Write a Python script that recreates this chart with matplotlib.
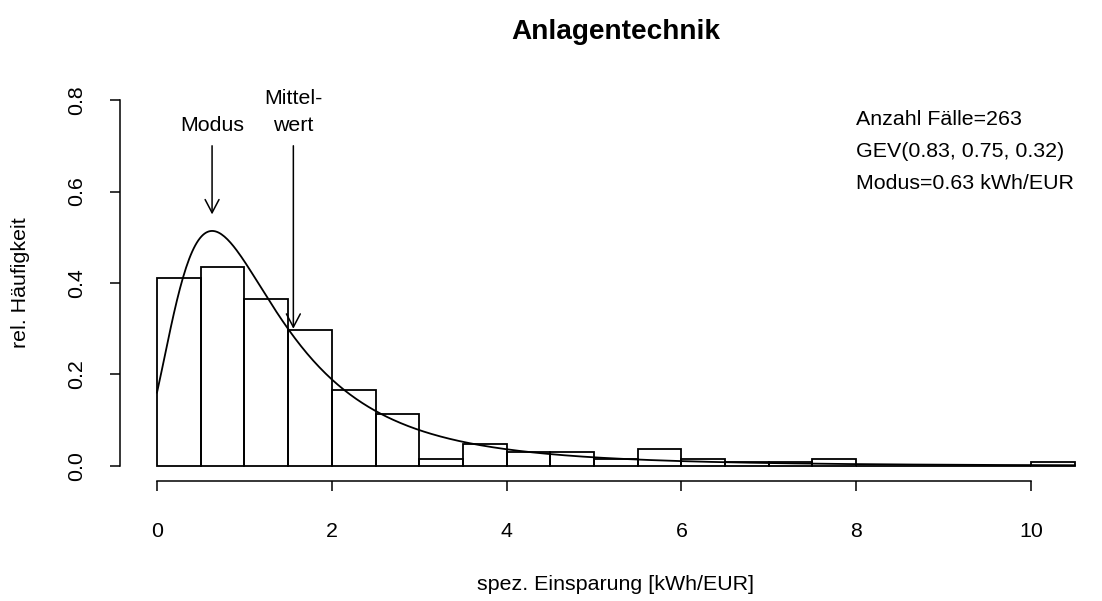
import numpy as np
import matplotlib
matplotlib.use("Agg")
import matplotlib.pyplot as plt

plt.rcParams['font.family'] = ['Liberation Sans', 'DejaVu Sans']

# histogram: bin edges every 0.5 kWh/EUR, relative frequency (density) per bin
bin_left = np.arange(0, 10.5, 0.5)
rel_freq = [0.411, 0.435, 0.366, 0.298, 0.167, 0.113, 0.016, 0.047, 0.030, 0.030,
            0.016, 0.037, 0.016, 0.008, 0.008, 0.016, 0.0, 0.0, 0.0, 0.0, 0.008]

# fitted GEV (location, scale, shape) as printed on the chart
gev_loc, gev_scale, gev_shape = 0.83, 0.75, 0.32
modus = 0.63
mittelwert = 1.56
n_cases = 263

info_lines = ["Anzahl Fälle=%d" % n_cases,
              "GEV(%.2f, %.2f, %.2f)" % (gev_loc, gev_scale, gev_shape),
              "Modus=%.2f kWh/EUR" % modus]

xticks = [0, 2, 4, 6, 8, 10]
yticks = [0.0, 0.2, 0.4, 0.6, 0.8]


def gev_pdf(x):
	z = 1 + gev_shape * (x - gev_loc) / gev_scale
	t = z ** (-1 / gev_shape)
	return t ** (gev_shape + 1) * np.exp(-t) / gev_scale


fig = plt.figure(figsize=(11.02, 6.01), dpi=100)
ax = fig.add_axes([120.3 / 1102, 1 - 480.6 / 601, 991.1 / 1102, 395.2 / 601])
ax.set_xlim(-0.42, 10.92)
ax.set_ylim(-0.032, 0.832)

fs = 15.4
ax.bar(bin_left, rel_freq, width=0.5, align="edge", fill=False, edgecolor="black", linewidth=1.3)

xs = np.linspace(0, 10.5, 600)
ax.plot(xs, gev_pdf(xs), color="black", linewidth=1.3)

# arrows for mode and mean
arrow = dict(arrowstyle="->,head_length=0.95,head_width=0.5", color="black", lw=1.1, shrinkA=0, shrinkB=0)
ax.annotate("", xy=(modus, 0.55), xytext=(modus, 0.70), arrowprops=arrow)
ax.annotate("", xy=(mittelwert, 0.30), xytext=(mittelwert, 0.70), arrowprops=arrow)
ax.text(modus, 0.723, "Modus", ha="center", va="bottom", fontsize=fs)
ax.text(mittelwert, 0.723, "Mittel-\nwert", ha="center", va="bottom", fontsize=fs,
	multialignment="center", linespacing=1.55)

for i, line in enumerate(info_lines):
	ax.text(8.0, 0.758 - 0.07 * i, line, ha="left", va="center", fontsize=fs)

# R-style detached axes
for s in ["top", "right"]:
	ax.spines[s].set_visible(False)
ax.spines["left"].set_bounds(0, 0.8)
ax.spines["bottom"].set_bounds(0, 10)
ax.spines["left"].set_linewidth(1.1)
ax.spines["bottom"].set_linewidth(1.1)
ax.set_xticks(xticks)
ax.set_xticklabels([str(v) for v in xticks])
ax.set_yticks(yticks)
ax.set_yticklabels(["%.1f" % v for v in yticks])
ax.tick_params(axis="both", length=7.5, width=1.1, labelsize=fs, direction="out")
ax.tick_params(axis="x", pad=22)
ax.tick_params(axis="y", pad=17)
for lab in ax.get_yticklabels():
	lab.set_rotation(90)
	lab.set_va("center")

ax.set_xlabel("spez. Einsparung [kWh/EUR]", fontsize=fs)
ax.xaxis.set_label_coords(0.5, -0.264)
ax.xaxis.label.set_va("center")
ax.set_ylabel("rel. Häufigkeit", fontsize=fs)
ax.yaxis.set_label_coords(-0.1012, 0.5)
ax.yaxis.label.set_va("center")

ax.text(0.5, 1.135, "Anlagentechnik", transform=ax.transAxes, ha="center", va="center",
	fontsize=20.2, fontweight="bold")

fig.savefig("out.png", dpi=100)
